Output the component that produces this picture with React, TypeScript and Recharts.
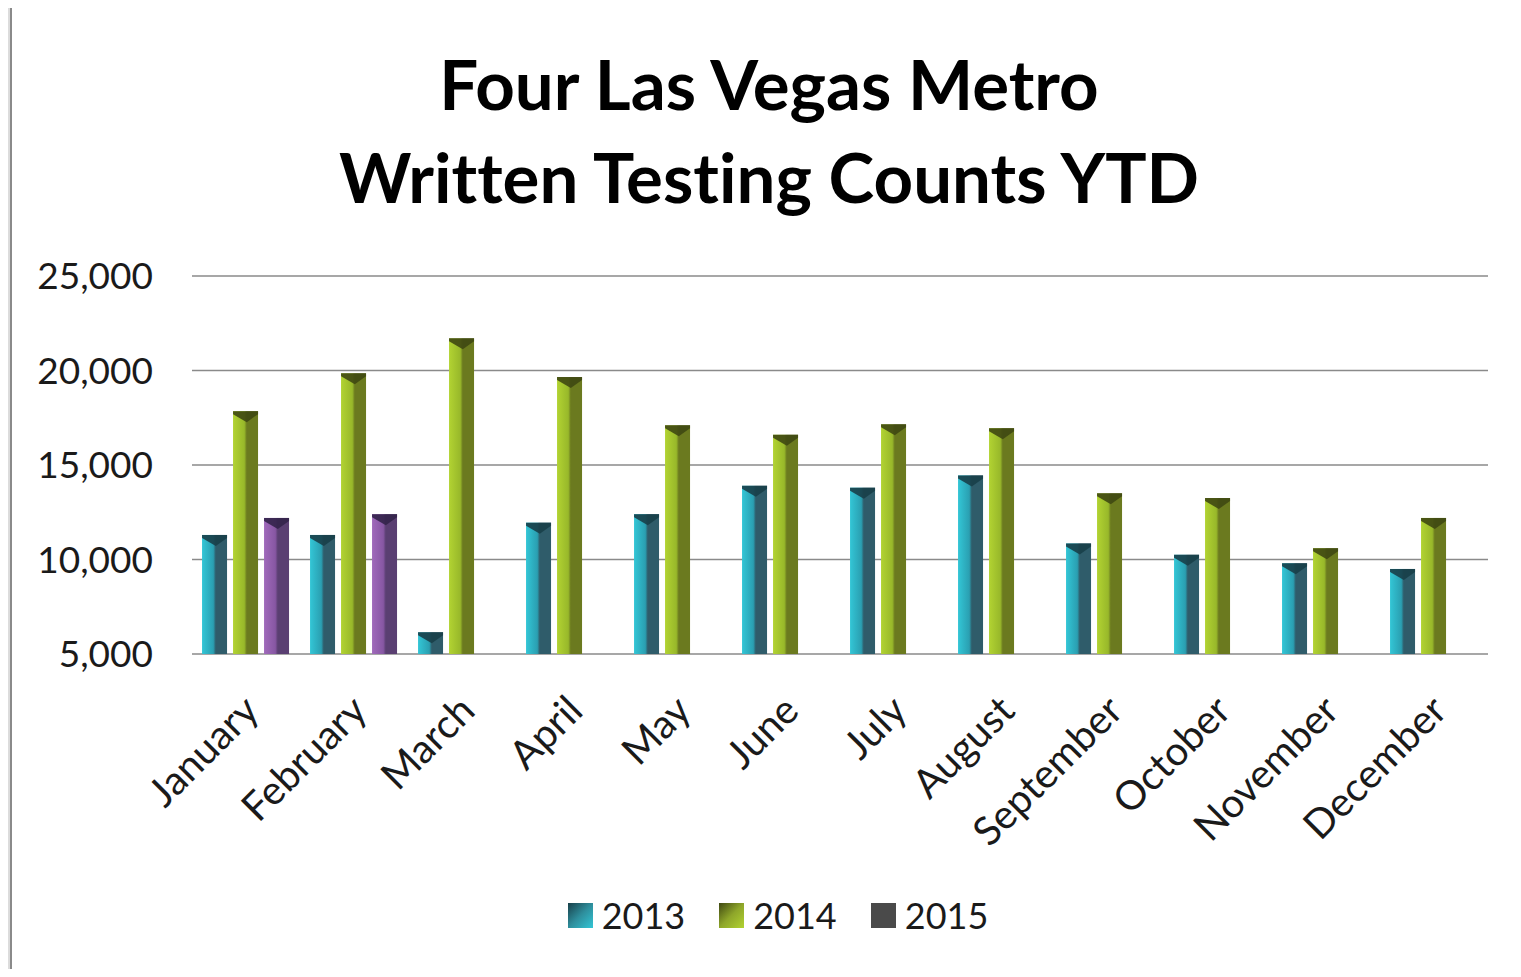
import React from 'react';
import { BarChart, Bar, XAxis, YAxis, CartesianGrid } from 'recharts';

const months = [
  'January', 'February', 'March', 'April', 'May', 'June',
  'July', 'August', 'September', 'October', 'November', 'December',
];
const counts2013 = [11300, 11300, 6150, 11950, 12400, 13900, 13800, 14450, 10850, 10250, 9800, 9500];
const counts2014 = [17850, 19850, 21700, 19650, 17100, 16600, 17150, 16950, 13500, 13250, 10600, 12200];
const counts2015 = [12200, 12400, null, null, null, null, null, null, null, null, null, null];
const yTicks = [5000, 10000, 15000, 20000, 25000];
const titleLines = ['Four Las Vegas Metro', 'Written Testing Counts YTD'];

const series = [
  { key: 'y2013', name: '2013', light: '#33c6d6', mid: '#2a9fb1', dark: '#2f5c6a', cap: '#183f49', swatch: '#2e8e9c' },
  { key: 'y2014', name: '2014', light: '#b2d332', mid: '#98b82a', dark: '#6b7a1f', cap: '#3f4812', swatch: '#8ea62a' },
  { key: 'y2015', name: '2015', light: '#a06abb', mid: '#8757a3', dark: '#5a3f72', cap: '#33234a', swatch: '#4a4a4a' },
];

const data = months.map((m, i) => ({
  month: m,
  y2013: counts2013[i],
  y2014: counts2014[i],
  y2015: counts2015[i],
}));

const FONT = 'Lato, "Open Sans", sans-serif';

const makeShape = (s: typeof series[number]) => (props: any) => {
  const { x, y, width, height } = props;
  if (!height || height <= 0) return null;
  const capDepth = Math.min(11, height);
  return (
    <g>
      <rect x={x} y={y} width={width} height={height} fill={`url(#grad-${s.key})`} />
      <polygon
        points={`${x},${y} ${x + width},${y} ${x + width},${y + 3} ${x + width * 0.55},${y + capDepth} ${x},${y + 3}`}
        fill={s.cap}
        opacity={0.9}
      />
    </g>
  );
};

const MonthTick = (props: any) => {
  const { x, y, payload } = props;
  return (
    <g transform={`translate(${x + 15},${y + 57})`}>
      <text textAnchor="end" transform="rotate(-45)" fontSize={40} fontFamily={FONT} fill="#1a1a1a">
        {payload.value}
      </text>
    </g>
  );
};

export default function App() {
  return (
    <div style={{ position: 'relative', width: 1521, height: 977, margin: -8, background: '#dcdcdc', overflow: 'hidden' }}>
      <div
        style={{
          position: 'absolute', left: 10, top: 5, width: 1511, height: 966, background: '#fff',
          borderLeft: '2px solid #8a8a8a', borderTop: '2px solid #8a8a8a', borderBottom: '2px solid #a0a0a0',
        }}
      />
      <svg width={1521} height={240} style={{ position: 'absolute', left: 0, top: 0 }}>
        {titleLines.map((t, i) => (
          <text
            key={t}
            x={769}
            y={110 + i * 93}
            textAnchor="middle"
            fontSize={69}
            fontWeight={700}
            fontFamily={FONT}
            fill="#000"
            style={{ fontVariantLigatures: 'none' }}
          >
            {t}
          </text>
        ))}
      </svg>
      <div style={{ position: 'absolute', left: 0, top: 0 }}>
        <BarChart
          width={1521}
          height={977}
          data={data}
          margin={{ top: 276, right: 33, left: 0, bottom: 0 }}
          barCategoryGap="9.3%"
          barGap={6}
        >
          <defs>
            {series.map((s) => (
              <linearGradient key={s.key} id={`grad-${s.key}`} x1="0" y1="0" x2="1" y2="0">
                <stop offset="0%" stopColor={s.light} />
                <stop offset="45%" stopColor={s.mid} />
                <stop offset="55%" stopColor={s.dark} />
                <stop offset="100%" stopColor={s.dark} />
              </linearGradient>
            ))}
          </defs>
          <CartesianGrid horizontal vertical={false} stroke="#8a8a8a" strokeWidth={1.5} />
          <XAxis
            dataKey="month"
            height={323}
            axisLine={false}
            tickLine={false}
            tickSize={0}
            interval={0}
            tick={<MonthTick />}
          />
          <YAxis
            width={192}
            domain={[5000, 25000]}
            ticks={yTicks}
            allowDataOverflow
            axisLine={false}
            tickLine={false}
            tickSize={0}
            tickMargin={39}
            tickFormatter={(v: number) => v.toLocaleString('en-US')}
            tick={{ fontSize: 37, fontFamily: FONT, fill: '#1a1a1a' }}
          />
          {series.map((s) => (
            <Bar key={s.key} dataKey={s.key} name={s.name} shape={makeShape(s)} isAnimationActive={false} />
          ))}
        </BarChart>
      </div>
      <div
        style={{
          position: 'absolute', top: 893, left: 0, width: 1556, display: 'flex', justifyContent: 'center',
          gap: 34, fontFamily: FONT, fontSize: 36, color: '#1a1a1a', lineHeight: '44px',
        }}
      >
        {series.map((s) => (
          <div key={s.key} style={{ display: 'flex', alignItems: 'center', gap: 9 }}>
            <div
              style={{
                width: 25, height: 25,
                background: s.key === 'y2015' ? s.swatch : `linear-gradient(135deg, ${s.cap} 0%, ${s.swatch} 50%, ${s.light} 100%)`,
              }}
            />
            <span>{s.name}</span>
          </div>
        ))}
      </div>
    </div>
  );
}
